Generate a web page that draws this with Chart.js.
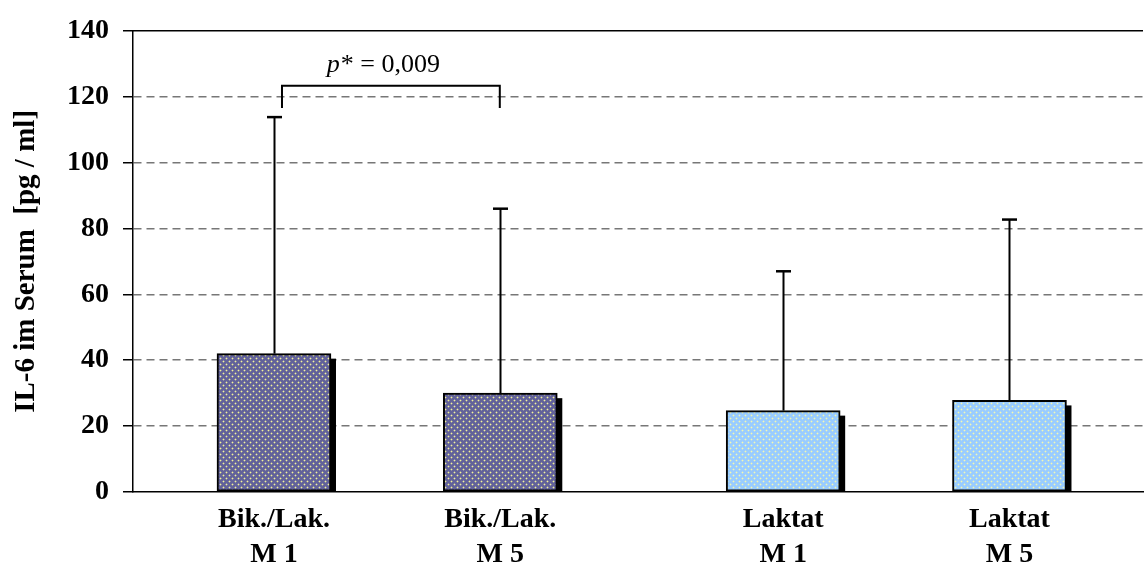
<!DOCTYPE html>
<html>
<head>
<meta charset="utf-8">
<style>
  html, body { margin: 0; padding: 0; background: #ffffff; }
  #wrap { width: 1144px; height: 568px; }
</style>
<script src="https://cdn.jsdelivr.net/npm/chart.js@4/dist/chart.umd.min.js"></script>
</head>
<body>
<div id="wrap"><canvas id="chart" width="1144" height="568"></canvas></div>
<script>
// Groups (two-line axis labels) and their slot on the x axis (wider gap between the two pairs)
const categories = [['Bik./Lak.', 'M 1'], ['Bik./Lak.', 'M 5'], ['Laktat', 'M 1'], ['Laktat', 'M 5']];
const slots = [0, 1, 2.25, 3.25];
// IL-6 means and standard deviations in pg/ml
const means = [42, 30, 24.7, 27.8];
const sds = [71.8, 56, 42.3, 54.9];
// Y axis tick values
const yTicks = [0, 20, 40, 60, 80, 100, 120, 140];
// Significance bracket between the first two groups
const sigFrom = 0;
const sigTo = 1;
const sigTop = 123.3;
const sigLegEnd = 116.6;
const sigTextY = 127.6;
const sigP = 'p';
const sigRest = '* = 0,009';

const SERIF = "'Liberation Serif', 'Times New Roman', Times, serif";

function dotPattern(base, dot) {
  const t = document.createElement('canvas');
  t.width = 6; t.height = 6;
  const g = t.getContext('2d');
  g.fillStyle = base;
  g.fillRect(0, 0, 6, 6);
  const put = (x, y) => {
    g.globalAlpha = 1;
    g.fillStyle = dot;
    g.fillRect(x, y, 1, 1);
    g.globalAlpha = 0.35;
    g.fillRect(x - 1, y, 1, 1); g.fillRect(x + 1, y, 1, 1);
    g.fillRect(x, y - 1, 1, 1); g.fillRect(x, y + 1, 1, 1);
  };
  put(1, 1);
  put(4, 4);
  return g.createPattern(t, 'repeat');
}

const ctx0 = document.getElementById('chart').getContext('2d');
const darkFill = dotPattern('#62629a', '#f2f29a');
const lightFill = dotPattern('#99ccff', '#f4f7b0');
const fills = [darkFill, darkFill, lightFill, lightFill];

const CAP_HALF = 7.5;

// Black drop shadow behind each bar
const barShadow = {
  id: 'barShadow',
  beforeDatasetsDraw(chart) {
    const c = chart.ctx;
    const meta = chart.getDatasetMeta(0);
    c.save();
    c.fillStyle = '#000';
    meta.data.forEach(el => {
      const p = el.getProps(['x', 'y', 'base', 'width'], true);
      c.fillRect(p.x - p.width / 2 + 5, p.y + 5, p.width, p.base - p.y - 5);
    });
    c.restore();
  }
};

// Upper error whiskers, top frame line and the significance bracket
const overlays = {
  id: 'overlays',
  afterDatasetsDraw(chart) {
    const c = chart.ctx;
    const xs = chart.scales.x, ys = chart.scales.y;
    const area = chart.chartArea;
    const meta = chart.getDatasetMeta(0);
    c.save();
    c.strokeStyle = '#000';
    c.lineCap = 'butt';
    meta.data.forEach((el, i) => {
      const x = Math.round(el.x) + 0.5;
      const yb = ys.getPixelForValue(means[i]);
      const yt = ys.getPixelForValue(means[i] + sds[i]);
      c.lineWidth = 2;
      c.beginPath(); c.moveTo(x, yb); c.lineTo(x, yt); c.stroke();
      c.lineWidth = 2.5;
      c.beginPath(); c.moveTo(x - CAP_HALF, yt); c.lineTo(x + CAP_HALF, yt); c.stroke();
    });

    // top frame line at the axis maximum
    c.lineWidth = 1.5;
    c.beginPath();
    c.moveTo(area.left, area.top);
    c.lineTo(area.right, area.top);
    c.stroke();

    // bracket
    const xl = xs.getPixelForValue(slots[sigFrom]) + CAP_HALF + 0.5;
    const xr = xs.getPixelForValue(slots[sigTo]) - 0.5;
    const yTop = ys.getPixelForValue(sigTop);
    const yLeg = ys.getPixelForValue(sigLegEnd);
    c.lineWidth = 2;
    c.beginPath();
    c.moveTo(xl, yLeg); c.lineTo(xl, yTop); c.lineTo(xr, yTop); c.lineTo(xr, yLeg);
    c.stroke();

    // p-value label
    const fontI = 'italic 26px ' + SERIF;
    const fontN = '26px ' + SERIF;
    c.font = fontI;
    const wP = c.measureText(sigP).width;
    c.font = fontN;
    const wR = c.measureText(sigRest).width;
    const cx = (xl + xr) / 2 - 8;
    const x0 = cx - (wP + wR) / 2;
    const yText = ys.getPixelForValue(sigTextY);
    c.fillStyle = '#000';
    c.textBaseline = 'alphabetic';
    c.textAlign = 'left';
    c.font = fontI;
    c.fillText(sigP, x0, yText);
    c.font = fontN;
    c.fillText(sigRest, x0 + wP + 1, yText);
    c.restore();
  }
};

new Chart(ctx0, {
  type: 'bar',
  data: {
    datasets: [{
      data: slots.map((s, i) => ({ x: s, y: means[i] })),
      backgroundColor: fills,
      borderColor: '#000',
      borderWidth: 2,
      borderSkipped: false,
      barThickness: 114
    }]
  },
  options: {
    responsive: false,
    devicePixelRatio: 1,
    animation: false,
    layout: { padding: { top: 27, right: 1, bottom: 0, left: 0 } },
    plugins: {
      legend: { display: false },
      tooltip: { enabled: false }
    },
    scales: {
      x: {
        type: 'linear',
        offset: false,
        bounds: 'data',
        min: -0.623,
        max: 3.84,
        afterBuildTicks: s => { s.ticks = slots.map(v => ({ value: v })); },
        afterFit: s => { s.height = 76; },
        grid: { display: false, drawTicks: false, offset: false },
        border: { display: true, color: '#000', width: 1.5 },
        ticks: {
          autoSkip: false,
          maxRotation: 0,
          minRotation: 0,
          padding: 10,
          color: '#000',
          font: { family: SERIF, size: 28, weight: 'bold', lineHeight: 1.25 },
          callback: (v, i) => categories[i]
        }
      },
      y: {
        min: 0,
        max: 140,
        afterBuildTicks: s => { s.ticks = yTicks.map(v => ({ value: v })); },
        afterFit: s => { s.width = 133; },
        grid: {
          color: c => (c.tick && (c.tick.value === 0 || c.tick.value === 140)) ? 'rgba(0,0,0,0)' : '#777777',
          lineWidth: 1.5,
          drawTicks: true,
          tickLength: 10,
          tickColor: '#000',
          tickWidth: 1.5
        },
        border: { display: true, color: '#000', width: 1.5, dash: [8, 5] },
        ticks: {
          padding: 14,
          color: '#000',
          font: { family: SERIF, size: 28, weight: 'bold' }
        },
        title: {
          display: true,
          text: 'IL-6 im Serum  [pg / ml]',
          color: '#000',
          font: { family: SERIF, size: 29, weight: 'bold', lineHeight: 1.2 },
          padding: { top: 9, bottom: 0 }
        }
      }
    }
  },
  plugins: [barShadow, overlays]
});
</script>
</body>
</html>
